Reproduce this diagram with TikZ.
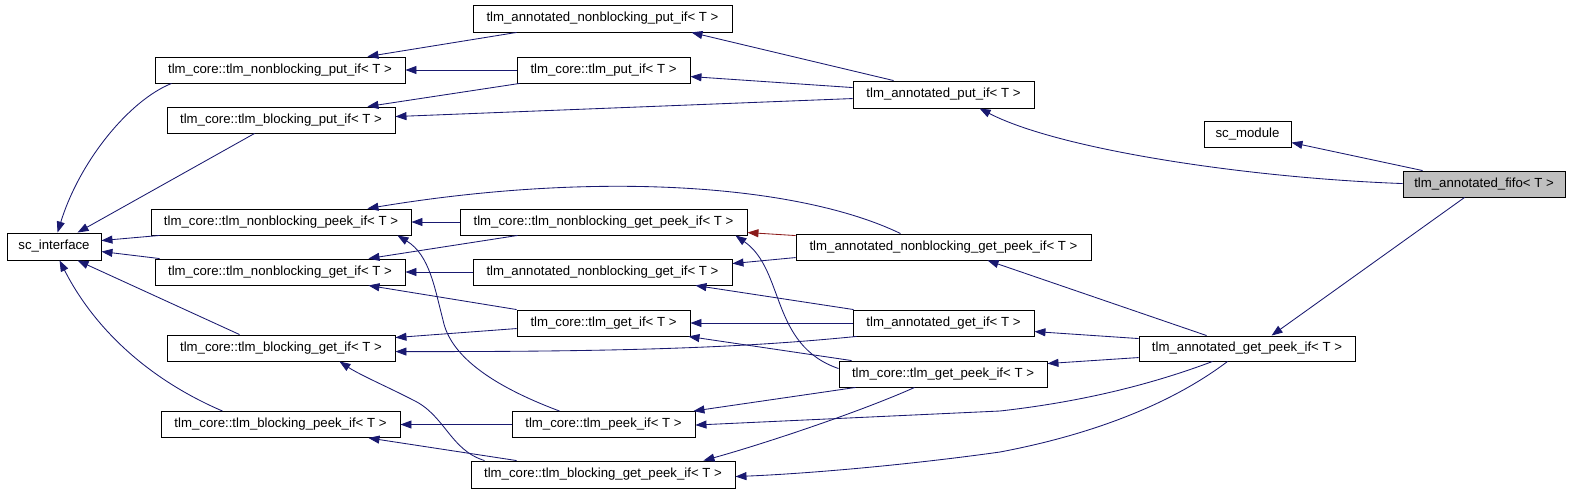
\documentclass[tikz,border=0pt]{standalone}
\usepackage{fontspec}
\setmainfont{Liberation Sans}
\usetikzlibrary{arrows.meta,calc}
\definecolor{edgeblue}{HTML}{191970}
\definecolor{edgered}{HTML}{8B1A1A}
\definecolor{curgray}{HTML}{BFBFBF}
\begin{document}
\begin{tikzpicture}[x=1pt,y=-1pt,
  box/.style={draw=black,line width=0.9pt,fill=white,inner sep=0pt,minimum height=26pt,anchor=center,font=\fontsize{13.2}{15}\selectfont},
  inh/.style={draw=edgeblue,line width=0.85pt,-{Triangle[length=11pt,width=8pt]}},
  prot/.style={draw=edgered,line width=0.85pt,-{Triangle[length=11pt,width=8pt]}}]
\useasboundingbox[fill=white] (0,0) rectangle (1573,493);
% column 1
\node[box,minimum width=94pt,minimum height=27pt] (sci) at (54,246.5) {sc\_interface};
% column 2
\node[box,minimum width=250pt] (nbput) at (280,70) {tlm\_core::tlm\_nonblocking\_put\_if< T >};
\node[box,minimum width=228pt] (bput) at (281,120) {tlm\_core::tlm\_blocking\_put\_if< T >};
\node[box,minimum width=260pt] (nbpeek) at (281,222) {tlm\_core::tlm\_nonblocking\_peek\_if< T >};
\node[box,minimum width=250pt] (nbget) at (280,272) {tlm\_core::tlm\_nonblocking\_get\_if< T >};
\node[box,minimum width=228pt] (bget) at (281,348) {tlm\_core::tlm\_blocking\_get\_if< T >};
\node[box,minimum width=239pt] (bpeek) at (280.5,424.5) {tlm\_core::tlm\_blocking\_peek\_if< T >};
% column 3
\node[box,minimum width=259pt,minimum height=27pt] (annnbput) at (602.5,18.5) {tlm\_annotated\_nonblocking\_put\_if< T >};
\node[box,minimum width=173pt] (putif) at (603.5,70) {tlm\_core::tlm\_put\_if< T >};
\node[box,minimum width=287pt] (nbgetpeek) at (603.5,222) {tlm\_core::tlm\_nonblocking\_get\_peek\_if< T >};
\node[box,minimum width=259pt] (annnbget) at (602.5,272) {tlm\_annotated\_nonblocking\_get\_if< T >};
\node[box,minimum width=173pt] (getif) at (603.5,323) {tlm\_core::tlm\_get\_if< T >};
\node[box,minimum width=183pt] (peekif) at (603.5,424.5) {tlm\_core::tlm\_peek\_if< T >};
\node[box,minimum width=264pt,minimum height=27pt] (bgetpeek) at (603,474.5) {tlm\_core::tlm\_blocking\_get\_peek\_if< T >};
% column 4
\node[box,minimum width=181pt,minimum height=27pt] (annput) at (943.5,94.5) {tlm\_annotated\_put\_if< T >};
\node[box,minimum width=295pt] (annnbgetpeek) at (943.5,247) {tlm\_annotated\_nonblocking\_get\_peek\_if< T >};
\node[box,minimum width=181pt] (annget) at (943.5,323) {tlm\_annotated\_get\_if< T >};
\node[box,minimum width=208pt] (getpeek) at (943,374) {tlm\_core::tlm\_get\_peek\_if< T >};
% column 5
\node[box,minimum width=87pt] (scmod) at (1247.5,134) {sc\_module};
\node[box,minimum width=216pt,minimum height=25pt] (anngetpeek) at (1247,348.5) {tlm\_annotated\_get\_peek\_if< T >};
% column 6
\node[box,fill=curgray,minimum width=162pt] (fifo) at (1484,184) {tlm\_annotated\_fifo< T >};

% edges to sc_interface
\draw[inh] ($(nbput.south west)+(17,0)$) .. controls (130,100) and (80,160) .. ($(sci.north west)+(51,0)$);
\draw[inh] ($(bput.south west)+(88,0)$) -- ($(sci.north west)+(71,0)$);
\draw[inh] ($(nbpeek.south west)+(9,0)$) -- ($(sci.north east)+(0,8)$);
\draw[inh] ($(nbget.north west)+(5,0)$) -- ($(sci.north east)+(0,19)$);
\draw[inh] ($(bget.north west)+(73,0)$) -- ($(sci.south west)+(71,0)$);
\draw[inh] ($(bpeek.north west)+(62,0)$) .. controls (150,380) and (95,330) .. ($(sci.south west)+(53,0)$);
% put side
\draw[inh] (putif.west) -- (nbput.east);
\draw[inh] ($(putif.south west)+(3,0)$) -- ($(bput.north east)+(-28,0)$);
\draw[inh] ($(annnbput.south west)+(44,0)$) -- ($(nbput.north east)+(-38,0)$);
\draw[inh] ($(annput.north west)+(41,0)$) -- ($(annnbput.south east)+(-41,0)$);
\draw[inh] ($(annput.north west)+(0,7)$) -- ($(putif.north east)+(0,20)$);
\draw[inh] ($(annput.north west)+(0,18)$) -- ($(bput.north east)+(0,10)$);
% fifo
\draw[inh] ($(fifo.north west)+(0,13)$) .. controls (1250,178) and (1060,150) .. ($(annput.south west)+(127,0)$);
\draw[inh] ($(fifo.north west)+(20,0)$) -- ($(scmod.north east)+(0,22)$);
\draw[inh] ($(fifo.south west)+(62,0)$) -- ($(anngetpeek.north west)+(133,0)$);
% get / peek side
\draw[inh] (nbgetpeek.west) -- (nbpeek.east);
\draw[inh] ($(nbgetpeek.south west)+(58,0)$) -- ($(nbget.north east)+(-37,0)$);
\draw[inh] ($(annnbgetpeek.north west)+(105,0)$) .. controls (800,185) and (600,170) .. ($(nbpeek.north east)+(-44,0)$);
\draw[prot] ($(annnbgetpeek.north west)+(0,2)$) -- ($(nbgetpeek.north east)+(0,24)$);
\draw[inh] ($(annnbgetpeek.north west)+(0,24)$) -- ($(annnbget.north east)+(0,5)$);
\draw[inh] (annnbget.west) -- (nbget.east);
\draw[inh] (getif.north west) -- ($(nbget.south east)+(-37,0)$);
\draw[inh] ($(getif.north west)+(0,19)$) -- ($(bget.north east)+(0,3)$);
\draw[inh] (annget.west) -- (getif.east);
\draw[inh] ($(annget.north west)+(1,0)$) -- ($(annnbget.south east)+(-37,0)$);
\draw[inh] ($(annget.south west)+(4,0)$) .. controls (760,346) and (650,352) .. ($(bget.north east)+(0,17)$);
\draw[inh] ($(getpeek.north west)+(13,0)$) -- ($(getif.south east)+(-2,0)$);
\draw[inh] ($(getpeek.north west)+(0,8)$) .. controls (770,345) and (785,270) .. ($(nbgetpeek.south east)+(-12,0)$);
\draw[inh] ($(getpeek.south west)+(17,0)$) -- ($(peekif.north east)+(-2,0)$);
\draw[inh] ($(getpeek.south west)+(76,0)$) .. controls (860,412) and (760,445) .. ($(bgetpeek.north east)+(-32,0)$);
\draw[inh] ($(anngetpeek.north west)+(0,3)$) -- ($(annget.north east)+(0,22)$);
\draw[inh] ($(anngetpeek.north west)+(0,22)$) -- ($(getpeek.north east)+(0,3)$);
\draw[inh] ($(anngetpeek.north west)+(68,0)$) -- ($(annnbgetpeek.south west)+(192,0)$);
\draw[inh] ($(anngetpeek.south west)+(74,0)$) .. controls (1150,385) and (1080,402) .. (1000,411) -- ($(peekif.north east)+(0,14)$);
\draw[inh] ($(anngetpeek.south west)+(89,0)$) .. controls (1170,405) and (1090,435) .. (1000,452) .. controls (900,466) and (800,474) .. ($(bgetpeek.north east)+(0,16)$);
\draw[inh] ($(peekif.north west)+(48,0)$) .. controls (490,385) and (450,355) .. (443,320) .. controls (435,290) and (430,255) .. ($(nbpeek.south east)+(-14,0)$);
\draw[inh] (peekif.west) -- (bpeek.east);
\draw[inh] ($(bgetpeek.north west)+(14,0)$) .. controls (450,450) and (445,415) .. (413,400) .. controls (390,388) and (360,375) .. ($(bget.south east)+(-56,0)$);
\draw[inh] ($(bgetpeek.north west)+(46,0)$) -- ($(bpeek.south east)+(-32,0)$);
\end{tikzpicture}
\end{document}
